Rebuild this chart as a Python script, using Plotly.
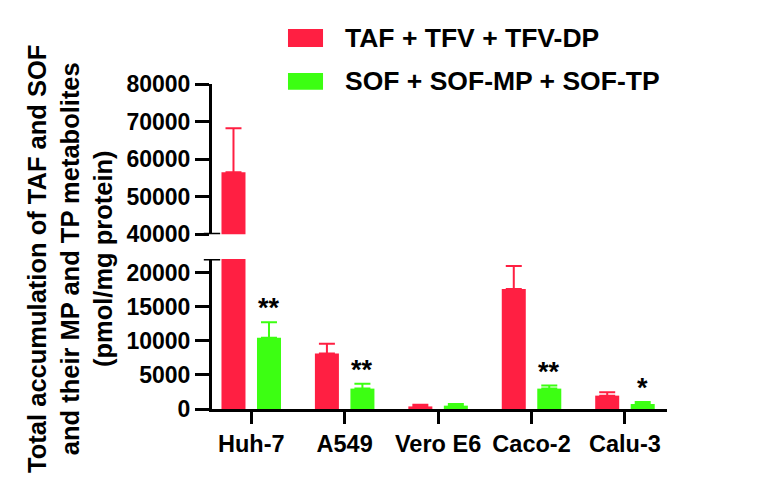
import plotly.graph_objects as go

categories = ["Huh-7", "A549", "Vero E6", "Caco-2", "Calu-3"]
taf_mean = [56500, 8130, 380, 17590, 1960]
taf_err = [11700, 1430, 250, 3380, 480]
sof_mean = [10440, 2990, 490, 2990, 735]
sof_err = [2300, 730, 250, 440, 300]
sof_sig = ["**", "**", "", "**", "*"]
series_names = ["TAF + TFV + TFV-DP", "SOF + SOF-MP + SOF-TP"]
lower_ticks = [0, 5000, 10000, 15000, 20000]
upper_ticks = [40000, 50000, 60000, 70000, 80000]

RED = "#FF1F42"
GREEN = "#3CFF12"
FONT = "Arial, Liberation Sans, sans-serif"
BW = 0.257
OFF = 0.19

fig = go.Figure()
for yax in ["y", "y2"]:
    for mean, err, color, sign, name in [
        (taf_mean, taf_err, RED, -1, series_names[0]),
        (sof_mean, sof_err, GREEN, 1, series_names[1]),
    ]:
        fig.add_trace(go.Bar(
            x=categories, y=mean, name=name, yaxis=yax, xaxis="x",
            width=BW, offset=sign * OFF - BW / 2,
            marker=dict(color=color, line=dict(width=0)),
            error_y=dict(type="data", array=err, arrayminus=[0] * len(err),
                         symmetric=False, color=color, thickness=2, width=8),
            showlegend=False,
        ))

axis_common = dict(showline=True, linewidth=3, linecolor="black", ticks="outside",
                   tickwidth=3, ticklen=14, tickcolor="black", showgrid=False,
                   zeroline=False, tickformat="d",
                   tickfont=dict(family=FONT, size=23, color="black", weight="bold"))

fig.update_layout(
    width=768, height=486,
    margin=dict(l=204, r=109, t=76, b=85),
    paper_bgcolor="white", plot_bgcolor="white",
    barmode="overlay",
    xaxis=dict(type="category", range=[-0.42, 4.45], showline=True, linewidth=3,
               linecolor="black", ticks="outside", tickwidth=3, ticklen=12,
               tickcolor="black", showgrid=False, anchor="y",
               tickfont=dict(family=FONT, size=23.5, color="black", weight="bold")),
    yaxis=dict(domain=[0, 0.4615], range=[0, 22000], tickvals=lower_ticks, anchor="x",
               **axis_common),
    yaxis2=dict(domain=[0.538, 1], range=[40000, 80000], tickvals=upper_ticks, anchor="x",
                **axis_common),
)

# axis break caps
for yref, yv in [("y2", 40000), ("y", 22000)]:
    fig.add_shape(type="line", xref="x domain", yref=yref, x0=-0.018, x1=0.018,
                  y0=yv, y1=yv, line=dict(color="black", width=3))

# significance markers
for cat, m, e, s in zip(categories, sof_mean, sof_err, sof_sig):
    if s:
        fig.add_annotation(x=cat, y=m + e, xref="x", yref="y", text=s, showarrow=False,
                           xshift=OFF * 93.5, yshift=14, yanchor="middle",
                           font=dict(family=FONT, size=27, color="black", weight="bold"))

# y title
fig.add_annotation(
    text="Total accumulation of TAF and SOF<br>and their MP and TP metabolites<br>(pmol/mg protein)",
    xref="paper", yref="paper", x=-0.312, y=0.462, textangle=-90, showarrow=False,
    xanchor="center", yanchor="middle",
    font=dict(family=FONT, size=25.5, color="black", weight="bold"))

# legend
for name, color, y0, y1, ty in [
    (series_names[0], RED, 1.114, 1.169, 1.1415),
    (series_names[1], GREEN, 0.982, 1.034, 1.008),
]:
    fig.add_shape(type="rect", xref="paper", yref="paper", x0=0.167, x1=0.244,
                  y0=y0, y1=y1, fillcolor=color, line=dict(width=0))
    fig.add_annotation(text=name, xref="paper", yref="paper", x=0.288, y=ty,
                       xanchor="left", yanchor="middle", showarrow=False,
                       font=dict(family=FONT, size=26.5, color="black", weight="bold"))

fig.write_html("out.html")
